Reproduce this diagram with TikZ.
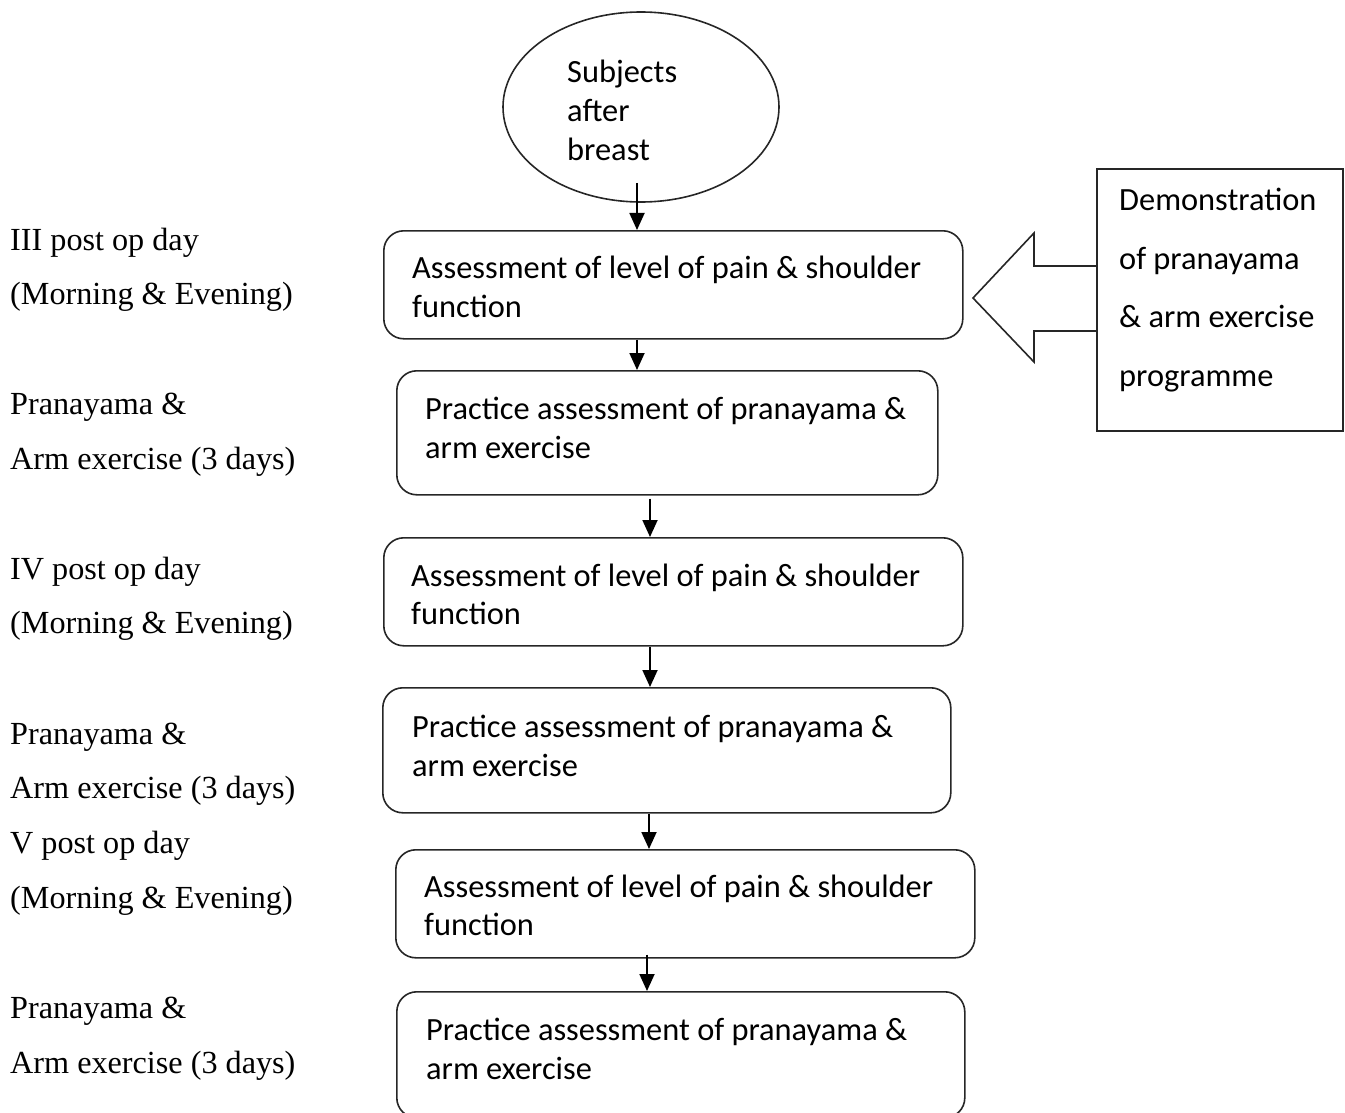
\documentclass[tikz,border=0pt]{standalone}
\usepackage{fontspec}
\setmainfont{Liberation Serif}
\newfontfamily\calfont{Carlito}
\usetikzlibrary{shapes.geometric,arrows.meta}
\begin{document}
\begin{tikzpicture}[x=1pt,y=-1pt,
  box/.style={draw=black!85,line width=1.6pt,rounded corners=20pt,anchor=north west,inner sep=0pt},
  sqbox/.style={draw=black!85,line width=1.6pt,anchor=north west,inner sep=0pt},
  txt/.style={anchor=base west,inner sep=0pt,font=\calfont\fontsize{32.4}{39}\selectfont},
  lbl/.style={anchor=base west,inner sep=0pt,font=\fontsize{32.2}{39}\selectfont},
  arr/.style={line width=1.8pt,-{Triangle[width=15pt,length=17pt]}}]
\useasboundingbox (0,0) rectangle (1345,1113);
% ellipse
\node[draw=black!85,line width=1.6pt,ellipse,minimum width=276pt,minimum height=190pt,inner sep=0pt] (e) at (641,107) {};
\node[txt] (e1) at (567,83) {Subjects};
\node[txt] (e2) at (567,122) {after};
\node[txt] (e3) at (567,161) {breast};
% boxes
\node[box,minimum width=579pt,minimum height=108pt] (b1) at (383,230) {};
\node[txt] (t1a) at (412,278) {Assessment of level of pain \& shoulder};
\node[txt] (t1b) at (412,317) {function};
\node[box,minimum width=541pt,minimum height=124pt] (b2) at (396,370) {};
\node[txt] (t2a) at (425,419) {Practice assessment of pranayama \&};
\node[txt] (t2b) at (425,458) {arm exercise};
\node[box,minimum width=579pt,minimum height=108pt] (b3) at (383,537) {};
\node[txt] (t3a) at (411,586) {Assessment of level of pain \& shoulder};
\node[txt] (t3b) at (411,624) {function};
\node[box,minimum width=568pt,minimum height=125pt] (b4) at (382,687) {};
\node[txt] (t4a) at (412,737) {Practice assessment of pranayama \&};
\node[txt] (t4b) at (412,776) {arm exercise};
\node[box,minimum width=579pt,minimum height=108pt] (b5) at (395,849) {};
\node[txt] (t5a) at (424,897) {Assessment of level of pain \& shoulder};
\node[txt] (t5b) at (424,935) {function};
\node[box,minimum width=568pt,minimum height=126pt] (b6) at (396,991) {};
\node[txt] (t6a) at (426,1040) {Practice assessment of pranayama \&};
\node[txt] (t6b) at (426,1079) {arm exercise};
% right box
\node[sqbox,minimum width=246pt,minimum height=262pt] (d) at (1096,168) {};
\node[txt] (d1) at (1119,211) {Demonstration};
\node[txt] (d2) at (1119,269) {of pranayama};
\node[txt] (d3) at (1119,327) {\& arm exercise};
\node[txt] (d4) at (1119,386) {programme};
% block arrow
\draw[draw=black!85,line width=1.6pt,line join=miter]
  (d.west |- 0,266) -- (1034,266) -- (1034,233) -- (973,298) -- (1034,362) -- (1034,331) -- (d.west |- 0,331);
% arrow columns
\coordinate (c0) at (637,0);
\coordinate (c1) at (637,0);
\coordinate (c2) at (650,0);
\coordinate (c3) at (650,0);
\coordinate (c4) at (649,0);
\coordinate (c5) at (647,0);
\draw[arr] ([xshift=-4pt,yshift=20pt]e.south) -- (b1.north -| c0);
\draw[arr] (b1.south -| c1) -- (b2.north -| c1);
\draw[arr] ([yshift=-3pt]b2.south -| c2) -- (b3.north -| c2);
\draw[arr] (b3.south -| c3) -- (b4.north -| c3);
\draw[arr] (b4.south -| c4) -- (b5.north -| c4);
\draw[arr] ([yshift=4pt]b5.south -| c5) -- (b6.north -| c5);
% left labels
\node[lbl] (l1) at (10,250) {III post op day};
\node[lbl] (l2) at (10,304) {(Morning \& Evening)};
\node[lbl] (l3) at (10,414) {Pranayama \&};
\node[lbl] (l4) at (10,469) {Arm exercise (3 days)};
\node[lbl] (l5) at (10,579) {IV post op day};
\node[lbl] (l6) at (10,633) {(Morning \& Evening)};
\node[lbl] (l7) at (10,744) {Pranayama \&};
\node[lbl] (l8) at (10,798) {Arm exercise (3 days)};
\node[lbl] (l9) at (10,853) {V post op day};
\node[lbl] (l10) at (10,908) {(Morning \& Evening)};
\node[lbl] (l11) at (10,1018) {Pranayama \&};
\node[lbl] (l12) at (10,1073) {Arm exercise (3 days)};
\end{tikzpicture}
\end{document}
